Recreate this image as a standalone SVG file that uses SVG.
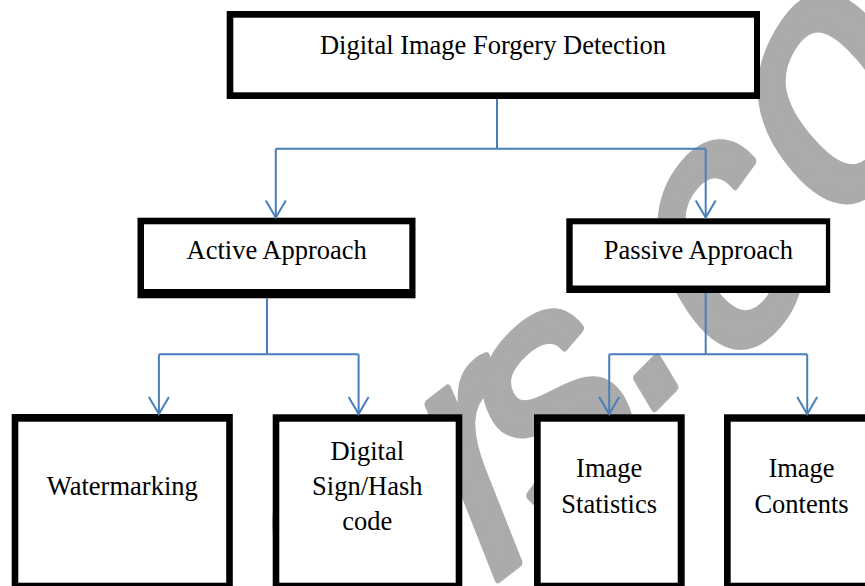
<svg xmlns="http://www.w3.org/2000/svg" width="865" height="586" viewBox="0 0 865 586">
  <defs>
    <style>
      .wm { font-family: "Liberation Sans", Arial, sans-serif; font-size: 270px; fill: #ababab; stroke: #ababab; stroke-width: 7; stroke-linejoin: round; text-anchor: middle; }
      .outer { fill: #000000; }
      .inner { fill: #ffffff; }
      .lbl { font-family: "Liberation Serif", "Times New Roman", serif; font-size: 26.5px; fill: #000000; text-anchor: middle; }
      .conn { fill: none; stroke: #4a7ebb; stroke-width: 2; }
    </style>
    <marker id="arrow" markerUnits="userSpaceOnUse" markerWidth="40" markerHeight="40" refX="0" refY="0" orient="auto" overflow="visible">
      <path d="M-17,-10 L0,0 L-17,10" fill="none" stroke="#4a7ebb" stroke-width="2"/>
    </marker>
  </defs>
  <rect width="865" height="586" fill="#ffffff"/>

  <g id="watermark">
    <text class="wm" x="0" y="70" transform="translate(345 545) scale(1 1.4) rotate(-27)">e</text>
    <text class="wm" x="0" y="70" transform="translate(487 475) scale(1 1.4) rotate(-29)">r</text>
    <text class="wm" x="0" y="70" transform="translate(558 412) scale(1 1.3) rotate(-35)">s</text>
    <text class="wm" x="0" y="14" transform="translate(656 383) scale(1 1.3) rotate(-38)">.</text>
    <text class="wm" x="0" y="70" transform="translate(728 250) scale(1 1.4) rotate(-40)">c</text>
    <text class="wm" x="0" y="70" transform="translate(836 100) scale(1 1.4) rotate(-50)">o</text>
  </g>

  <g id="node-root">
    <rect class="outer" x="226.7" y="11" width="533.3" height="88"/>
    <rect class="inner" x="233.3" y="17.7" width="520.7" height="74.6"/>
    <text class="lbl" x="493" y="53.5">Digital Image Forgery Detection</text>
  </g>
  <g id="node-active">
    <rect class="outer" x="137.5" y="217.7" width="278" height="80.6"/>
    <rect class="inner" x="144" y="224.3" width="265.3" height="64.7"/>
    <text class="lbl" x="276.7" y="258.7">Active Approach</text>
  </g>
  <g id="node-passive">
    <rect class="outer" x="566.3" y="218.3" width="263.9" height="74.7"/>
    <rect class="inner" x="572.7" y="224.3" width="253.2" height="61.2"/>
    <text class="lbl" x="698.4" y="258.5">Passive Approach</text>
  </g>
  <g id="node-watermarking">
    <rect class="outer" x="11.7" y="414" width="221.1" height="176"/>
    <rect class="inner" x="18.3" y="421.7" width="207.9" height="161"/>
    <text class="lbl" x="122.3" y="495">Watermarking</text>
  </g>
  <g id="node-digital-sign">
    <rect class="outer" x="272.7" y="414.3" width="189.6" height="176"/>
    <rect class="inner" x="279.3" y="421.7" width="176.4" height="161"/>
    <text class="lbl" x="367.3" y="460">Digital</text>
    <text class="lbl" x="367.3" y="495">Sign/Hash</text>
    <text class="lbl" x="367.3" y="530">code</text>
  </g>
  <g id="node-image-statistics">
    <rect class="outer" x="534" y="414.3" width="150.7" height="176"/>
    <rect class="inner" x="540.7" y="421.7" width="137" height="161"/>
    <text class="lbl" x="609.2" y="477">Image</text>
    <text class="lbl" x="609.2" y="513">Statistics</text>
  </g>
  <g id="node-image-contents">
    <rect class="outer" x="724" y="414.3" width="156" height="176"/>
    <rect class="inner" x="730.7" y="421.7" width="142.3" height="161"/>
    <text class="lbl" x="801.5" y="477">Image</text>
    <text class="lbl" x="801.5" y="513">Contents</text>
  </g>

  <g id="connectors">
    <path class="conn" d="M497,99 V148.7 M275.8,148.7 H705.7"/>
    <path class="conn" d="M275.8,148.7 V217.5" marker-end="url(#arrow)"/>
    <path class="conn" d="M705.7,148.7 V217.5" marker-end="url(#arrow)"/>
    <path class="conn" d="M267,298.3 V354.3 M158.9,354.3 H358.6"/>
    <path class="conn" d="M158.9,354.3 V414" marker-end="url(#arrow)"/>
    <path class="conn" d="M358.6,354.3 V414" marker-end="url(#arrow)"/>
    <path class="conn" d="M705.7,293 V354.3 M609.2,354.3 H807.2"/>
    <path class="conn" d="M609.2,354.3 V414" marker-end="url(#arrow)"/>
    <path class="conn" d="M807.2,354.3 V414" marker-end="url(#arrow)"/>
  </g>
</svg>
